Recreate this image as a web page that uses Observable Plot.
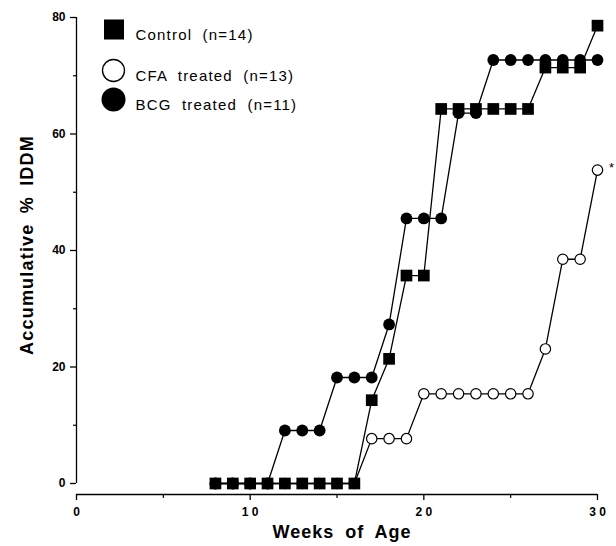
<!DOCTYPE html>
<html><head><meta charset="utf-8">
<script src="https://cdn.jsdelivr.net/npm/d3@7"></script>
<script src="https://cdn.jsdelivr.net/npm/@observablehq/plot@0.6"></script>
<style>body{margin:0;background:#fff}#chart{width:616px;height:546px}</style>
</head><body><div id="chart"></div>
<script>
const weeks   = [8,9,10,11,12,13,14,15,16,17,18,19,20,21,22,23,24,25,26,27,28,29,30];
const control = [0,0,0,0,0,0,0,0,0,14.3,21.4,35.7,35.7,64.3,64.3,64.3,64.3,64.3,64.3,71.4,71.4,71.4,78.6];
const cfa     = [0,0,0,0,0,0,0,0,0,7.7,7.7,7.7,15.4,15.4,15.4,15.4,15.4,15.4,15.4,23.1,38.5,38.5,53.8];
const bcg     = [0,0,0,0,9.1,9.1,9.1,18.2,18.2,18.2,27.3,45.5,45.5,45.5,63.6,63.6,72.7,72.7,72.7,72.7,72.7,72.7,72.7];
const seriesNames = ["Control (n=14)", "CFA treated (n=13)", "BCG treated (n=11)"];
const xTicks = [0,10,20,30];
const xTickLabels = ["0","1 0","2 0","3 0"];
const xMinorTicks = [5,15,25];
const yTicks = [0,20,40,60,80];
const yMinorTicks = [10,30,50,70];
const xTitle = "Weeks of Age";
const yTitle = "Accumulative % IDDM";
const significance = "*";

const rows = (vals, s) => weeks.map((w, i) => ({week: w, value: vals[i], series: s}));
const ctl = rows(control, "Control"), cf = rows(cfa, "CFA"), bc = rows(bcg, "BCG");
const font = "'Liberation Sans', Arial, Helvetica, sans-serif";
const yBottom = -1.89; // x axis drawn slightly below zero (detached axes)

const plot = Plot.plot({
  width: 616, height: 546,
  marginLeft: 76, marginRight: 19, marginTop: 17, marginBottom: 52,
  style: {fontFamily: font, background: "#fff", color: "#000", overflow: "visible"},
  x: {domain: [0, 30]},
  y: {domain: [yBottom, 80]},
  marks: [
    Plot.ruleY([yBottom], {x1: 0, x2: 30, stroke: "#000", strokeWidth: 1.3}),
    Plot.ruleX([0], {y1: 0, y2: 80, stroke: "#000", strokeWidth: 1.3}),
    Plot.axisX(xTicks, {tickSize: 6, tickPadding: 7, strokeWidth: 1.3, fontSize: 12, fontWeight: "bold",
      tickFormat: d => xTickLabels[xTicks.indexOf(d)], label: null}),
    Plot.axisX(xMinorTicks, {tickSize: 4, strokeWidth: 1.2, tickFormat: () => "", label: null}),
    Plot.axisY(yTicks, {tickSize: 6, tickPadding: 5, strokeWidth: 1.3, fontSize: 12, fontWeight: "bold", label: null}),
    Plot.axisY(yMinorTicks, {tickSize: 3, strokeWidth: 1.2, tickFormat: () => "", label: null}),
    Plot.line(ctl, {x: "week", y: "value", stroke: "#000", strokeWidth: 1.3}),
    Plot.line(cf, {x: "week", y: "value", stroke: "#000", strokeWidth: 1.3}),
    Plot.line(bc, {x: "week", y: "value", stroke: "#000", strokeWidth: 1.3}),
    Plot.dot(cf, {x: "week", y: "value", r: 5.2, fill: "#fff", stroke: "#000", strokeWidth: 1.2}),
    Plot.dot(bc, {x: "week", y: "value", r: 5.9, fill: "#000"}),
    Plot.dot(ctl, {x: "week", y: "value", symbol: "square", r: 6.6, fill: "#000"}),
    Plot.text([cf[cf.length - 1]], {x: "week", y: "value", text: () => significance, dx: 14, dy: -2, fontSize: 13}),
    // legend
    Plot.dot([0], {frameAnchor: "top-left", dx: 37.5, dy: 12, symbol: "square", r: 11.3, fill: "#000"}),
    Plot.dot([0], {frameAnchor: "top-left", dx: 37, dy: 53, r: 11, fill: "#fff", stroke: "#000", strokeWidth: 1.3}),
    Plot.dot([0], {frameAnchor: "top-left", dx: 37, dy: 82, r: 12, fill: "#000"}),
    Plot.text([seriesNames[0]], {frameAnchor: "top-left", dx: 59, dy: 12, text: d => d, textAnchor: "start", fontSize: 15}),
    Plot.text([seriesNames[1]], {frameAnchor: "top-left", dx: 59, dy: 53, text: d => d, textAnchor: "start", fontSize: 15}),
    Plot.text([seriesNames[2]], {frameAnchor: "top-left", dx: 59, dy: 82, text: d => d, textAnchor: "start", fontSize: 15}),
    // axis titles
    Plot.text([xTitle], {frameAnchor: "bottom", text: d => d, textAnchor: "middle", dx: 5, dy: 43, fontSize: 18, fontWeight: "bold"}),
    Plot.text([yTitle], {frameAnchor: "left", text: d => d, textAnchor: "middle", rotate: -90, dx: -49, dy: -11, fontSize: 18, fontWeight: "bold"})
  ]
});
d3.select(plot).selectAll("text").each(function() {
  const t = this.textContent;
  if (t.includes("(n=")) d3.select(this).style("letter-spacing", "1.2px").style("word-spacing", "5px");
  else if (t === xTitle) d3.select(this).style("letter-spacing", "1px").style("word-spacing", "5px");
  else if (t === yTitle) d3.select(this).style("letter-spacing", "1.2px").style("word-spacing", "4px");
});
document.getElementById("chart").appendChild(plot);
</script>
</body></html>
